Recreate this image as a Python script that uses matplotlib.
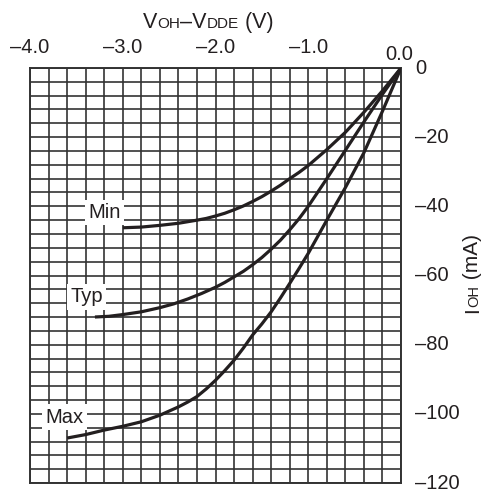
import numpy as np
import matplotlib
matplotlib.use("Agg")
import matplotlib.pyplot as plt
import matplotlib.transforms as mtransforms

plt.rcParams['font.family'] = ['Liberation Sans', 'DejaVu Sans']

# ---- data ----
min_v = [0.0, -0.2, -0.4, -0.6, -0.8, -1.0, -1.1, -1.2, -1.3, -1.4, -1.5, -1.6, -1.7,
         -1.8, -1.9, -2.0, -2.1, -2.2, -2.4, -2.6, -2.8, -3.0]
min_i = [0.0, -6.6, -12.8, -18.6, -23.6, -28.2, -30.2, -32.0, -33.9, -35.6, -37.2, -38.6, -39.9,
         -41.0, -42.0, -42.8, -43.5, -44.0, -44.9, -45.5, -46.0, -46.2]

typ_v = [0.0, -0.2, -0.4, -0.6, -0.8, -1.0, -1.1, -1.2, -1.3, -1.4, -1.5, -1.6, -1.7,
         -1.8, -1.9, -2.0, -2.15, -2.3, -2.45, -2.6, -2.8, -3.0, -3.15, -3.3]
typ_i = [0.0, -7.6, -15.6, -23.8, -32.0, -40.0, -43.6, -46.8, -49.8, -52.4, -54.8, -56.9, -58.8,
         -60.4, -62.0, -63.4, -65.2, -66.8, -68.2, -69.3, -70.5, -71.3, -71.8, -72.0]

max_v = [0.0, -0.2, -0.4, -0.6, -0.8, -1.0, -1.1, -1.2, -1.3, -1.4, -1.5, -1.6, -1.7,
         -1.8, -1.9, -2.0, -2.1, -2.2, -2.3, -2.4, -2.6, -2.8, -3.0, -3.2, -3.4, -3.6]
max_i = [0.0, -12.5, -24.5, -34.6, -44.0, -53.6, -58.0, -62.3, -66.5, -70.5, -74.0, -77.2, -81.0,
         -84.5, -87.5, -90.3, -92.8, -95.0, -96.6, -98.0, -100.4, -102.3, -103.6, -104.7, -106.0, -107.0]

curve_labels = ["Min", "Typ", "Max"]
label_pos_v = [-3.20, -3.39, -3.63]
label_pos_i = [-41.8, -66.1, -101.0]

x_ticks = [-4.0, -3.0, -2.0, -1.0, 0.0]
x_ticklabels = ["–4.0", "–3.0", "–2.0", "–1.0", "0.0"]
y_ticks = [0, -20, -40, -60, -80, -100, -120]
y_ticklabels = ["0", "–20", "–40", "–60", "–80", "–100", "–120"]

W, H = 484, 494
fig = plt.figure(figsize=(W / 100, H / 100), dpi=100)
ax = fig.add_axes([30 / W, 1 - 483 / H, (401 - 30) / W, (483 - 68) / H])
ax.set_xlim(-4.0, 0.0)
ax.set_ylim(-120, 0)

grid_c = '#333333'
ax.set_xticks(np.arange(-4.0, 0.001, 0.2))
ax.set_yticks(np.arange(-120, 0.001, 4))
ax.tick_params(length=0, labelbottom=False, labelleft=False)
ax.grid(True, color=grid_c, linewidth=1.2)
for s in ax.spines.values():
    s.set_color(grid_c)
    s.set_linewidth(1.4)

curve_c = '#231f20'
for v, i in [(min_v, min_i), (typ_v, typ_i), (max_v, max_i)]:
    ax.plot(v, i, color=curve_c, linewidth=2.3, solid_capstyle='butt',
            solid_joinstyle='round', zorder=3)

for lab, lv, li in zip(curve_labels, label_pos_v, label_pos_i):
    ax.text(lv, li, lab, fontsize=14.5, ha='center', va='center', color='#231f20',
            bbox=dict(facecolor='white', edgecolor='none', pad=2.5), zorder=4)

# tick labels (top and right)
xtr = mtransforms.blended_transform_factory(ax.transData, ax.transAxes)
for val, lab in zip(x_ticks, x_ticklabels):
    if val == 0.0:
        ax.text(val - 0.02, 1.0 + 13.5 / 415, lab, transform=xtr, fontsize=14.5,
                ha='center', va='center', color='#231f20')
    else:
        ax.text(val, 1.0 + 20.5 / 415, lab, transform=xtr, fontsize=14.5,
                ha='center', va='center', color='#231f20')

ytr = mtransforms.blended_transform_factory(ax.transAxes, ax.transData)
for val, lab in zip(y_ticks, y_ticklabels):
    ax.text(1.0 + 14 / 371, val, lab, transform=ytr, fontsize=14.5,
            ha='left', va='center', color='#231f20')

# mixed-size axis titles
fig.canvas.draw()
renderer = fig.canvas.get_renderer()


def mixed_text(x_px, y_px, pieces, rotation=0):
    pos = 0.0
    for s, size in pieces:
        if rotation == 0:
            t = fig.text((x_px + pos) / W, y_px / H, s, fontsize=size,
                         ha='left', va='baseline', color='#231f20')
            pos += t.get_window_extent(renderer).width
        else:
            t = fig.text(x_px / W, (y_px + pos) / H, s, fontsize=size,
                         rotation=90, rotation_mode='anchor',
                         ha='left', va='baseline', color='#231f20')
            pos += t.get_window_extent(renderer).height


mixed_text(143, H - 28, [("V", 15.5), ("OH", 11), ("–V", 15.5), ("DDE", 11), (" (V)", 15.5)])
mixed_text(478, H - 313, [("I", 15), ("OH", 10.5), (" (mA)", 15)], rotation=90)

fig.savefig("out.png", dpi=100)
